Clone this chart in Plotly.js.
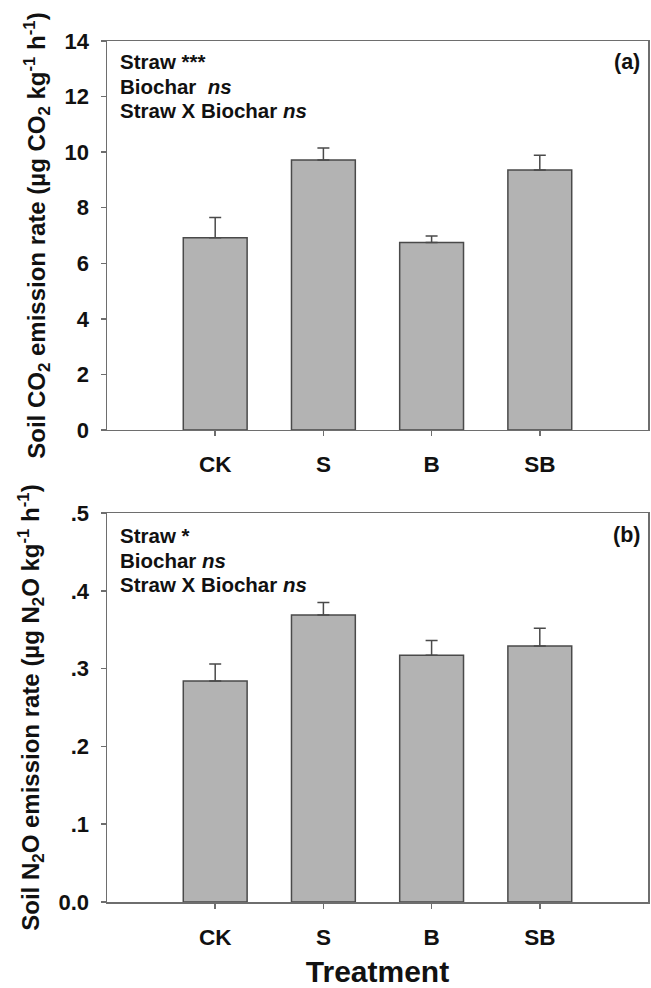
<!DOCTYPE html>
<html>
<head>
<meta charset="utf-8">
<script src="https://cdn.plot.ly/plotly-3.0.1.min.js"></script>
<style>html,body{margin:0;padding:0;background:#fff;}#chart{width:651px;height:988px;}</style>
</head>
<body>
<div id="chart"></div>
<script>
// Data
const treatments = ['CK', 'S', 'B', 'SB'];
const co2Mean = [6.92, 9.72, 6.75, 9.36];
const co2Err = [0.73, 0.43, 0.23, 0.53];
const n2oMean = [0.284, 0.369, 0.317, 0.329];
const n2oErr = [0.022, 0.016, 0.019, 0.023];
const co2TickVals = [0, 2, 4, 6, 8, 10, 12, 14];
const n2oTickVals = [0, 0.1, 0.2, 0.3, 0.4, 0.5];
const n2oTickText = ['0.0', '.1', '.2', '.3', '.4', '.5'];
const statsA = ['Straw ***', 'Biochar  <i>ns</i>', 'Straw X Biochar <i>ns</i>'];
const statsB = ['Straw *', 'Biochar <i>ns</i>', 'Straw X Biochar <i>ns</i>'];

const FONT = 'Liberation Sans, Arial, sans-serif';
const frameColor = '#6e6e6e';
const barFill = '#b3b3b3';
const barLine = '#4a4a4a';
const txt = '#111111';

function barTrace(means, errs, xa, ya) {
  return {
    type: 'bar', x: treatments, y: means, xaxis: xa, yaxis: ya,
    width: 0.59,
    marker: {color: barFill, line: {color: barLine, width: 1.5}},
    error_y: {type: 'data', symmetric: false, array: errs, arrayminus: errs.map(() => 0),
              color: barLine, thickness: 1.5, width: 6},
    showlegend: false, hoverinfo: 'skip'
  };
}

const xBase = {
  type: 'category', range: [-1, 4], showline: true, mirror: true, linecolor: frameColor, linewidth: 1.5,
  ticks: 'outside', ticklen: 5, tickwidth: 1.5, tickcolor: frameColor,
  tickfont: {family: FONT, size: 22.5, color: txt, weight: 'bold'},
  ticklabelstandoff: 9, showgrid: false, zeroline: false, fixedrange: true
};
const yBase = {
  showline: true, mirror: true, linecolor: frameColor, linewidth: 1.5,
  ticks: 'outside', ticklen: 5, tickwidth: 1.5, tickcolor: frameColor,
  tickfont: {family: FONT, size: 22, color: txt, weight: 'bold'},
  ticklabelstandoff: 7, showgrid: false, zeroline: false, fixedrange: true
};

const annotations = [];
const offs = [21, 46, 70];
const annFont = {family: FONT, size: 20.5, color: txt, weight: 'bold'};
statsA.forEach((t, i) => annotations.push({
  xref: 'x domain', yref: 'y domain', x: 0.02, y: 1 - offs[i] / 389, xanchor: 'left', yanchor: 'middle',
  text: t, showarrow: false, font: annFont
}));
statsB.forEach((t, i) => annotations.push({
  xref: 'x2 domain', yref: 'y2 domain', x: 0.02, y: 1 - (offs[i] + 1) / 389, xanchor: 'left', yanchor: 'middle',
  text: t, showarrow: false, font: annFont
}));
annotations.push({xref: 'x domain', yref: 'y domain', x: 0.988, y: 1 - 21 / 389, xanchor: 'right', yanchor: 'middle',
  text: '(a)', showarrow: false, font: {family: FONT, size: 21.5, color: txt, weight: 'bold'}});
annotations.push({xref: 'x2 domain', yref: 'y2 domain', x: 0.988, y: 1 - 22 / 389, xanchor: 'right', yanchor: 'middle',
  text: '(b)', showarrow: false, font: {family: FONT, size: 21.5, color: txt, weight: 'bold'}});

const layout = {
  width: 651, height: 988,
  margin: {l: 107, r: 3, t: 41, b: 86},
  paper_bgcolor: '#ffffff', plot_bgcolor: '#ffffff',
  bargap: 0,
  xaxis: Object.assign({}, xBase, {anchor: 'y', domain: [0, 1]}),
  yaxis: Object.assign({}, yBase, {anchor: 'x', domain: [0.5482, 1], range: [0, 14], tickvals: co2TickVals,
    title: {text: 'Soil CO<sub>2</sub> emission rate (µg CO<sub>2</sub> kg<sup>-1</sup> h<sup>-1</sup>)',
            font: {family: FONT, size: 24, color: txt, weight: 'bold'}, standoff: 12}}),
  xaxis2: Object.assign({}, xBase, {anchor: 'y2', domain: [0, 1],
    title: {text: 'Treatment', font: {family: FONT, size: 30, color: txt, weight: 'bold'}, standoff: 14}}),
  yaxis2: Object.assign({}, yBase, {anchor: 'x2', domain: [0, 0.4518], range: [0, 0.5], tickvals: n2oTickVals, ticktext: n2oTickText,
    title: {text: 'Soil N<sub>2</sub>O emission rate (µg N<sub>2</sub>O kg<sup>-1</sup> h<sup>-1</sup>)',
            font: {family: FONT, size: 24, color: txt, weight: 'bold'}, standoff: 12}}),
  annotations: annotations
};

Plotly.newPlot('chart', [barTrace(co2Mean, co2Err, 'x', 'y'), barTrace(n2oMean, n2oErr, 'x2', 'y2')], layout,
  {displayModeBar: false, staticPlot: true});
</script>
</body>
</html>
